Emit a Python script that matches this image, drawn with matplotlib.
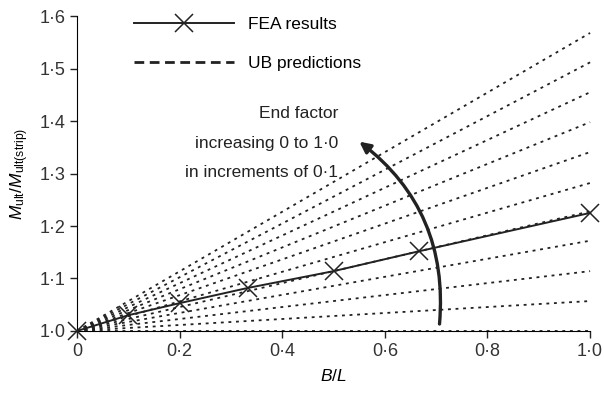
import matplotlib
matplotlib.use("Agg")
import matplotlib.pyplot as plt
from matplotlib.lines import Line2D
from matplotlib.patches import FancyArrowPatch

plt.rcParams['font.family'] = ['Liberation Sans', 'DejaVu Sans']
plt.rcParams['mathtext.fontset'] = 'custom'
plt.rcParams['mathtext.rm'] = 'Liberation Sans'
plt.rcParams['mathtext.it'] = 'Liberation Sans:italic'
plt.rcParams['font.size'] = 12.5

# FEA results
fea_x = [0, 0.1, 0.2, 0.333, 0.5, 0.667, 1.0]
fea_y = [1.0, 1.030, 1.053, 1.082, 1.114, 1.152, 1.225]

# UB predictions: straight lines from (0, 1) to value at B/L = 1.0, end factor 0..1.0
ub_x = [0, 1.0]
ub_end = [1.0, 1.057, 1.114, 1.172, 1.228, 1.282, 1.341, 1.398, 1.455, 1.512, 1.568]

x_ticks = [0, 0.2, 0.4, 0.6, 0.8, 1.0]
x_labels = ['0', '0·2', '0·4', '0·6', '0·8', '1·0']
y_ticks = [1.0, 1.1, 1.2, 1.3, 1.4, 1.5, 1.6]
y_labels = ['1·0', '1·1', '1·2', '1·3', '1·4', '1·5', '1·6']

fig = plt.figure(figsize=(6.04, 3.94), dpi=100)
ax = fig.add_axes([0.1275, 0.16, 0.8495, 0.799])

for v in ub_end:
    ax.plot(ub_x, [1.0, v], color='#222222', lw=1.3, dashes=(1.6, 2.6), clip_on=False)

ax.plot(fea_x, fea_y, color='#222222', lw=1.4, marker='x', markersize=13,
        markeredgewidth=1.1, clip_on=False, zorder=5)

# curved arrow for increasing end factor
arr = FancyArrowPatch((0.706, 1.008), (0.546, 1.364),
                      connectionstyle='arc3,rad=0.28', arrowstyle='-|>',
                      mutation_scale=16, lw=2.4, color='#222222', zorder=6)
ax.add_patch(arr)

ax.text(0.509, 1.358, 'End factor\nincreasing 0 to 1·0\nin increments of 0·1',
        ha='right', va='center', multialignment='right', linespacing=2.2,
        color='#222222')

ax.set_xlim(0, 1.0)
ax.set_ylim(1.0, 1.6)
ax.set_xticks(x_ticks)
ax.set_xticklabels(x_labels)
ax.set_yticks(y_ticks)
ax.set_yticklabels(y_labels)
ax.spines['top'].set_visible(False)
ax.spines['right'].set_visible(False)
ax.tick_params(length=5, width=1, colors='#222222', labelcolor='#333333',
               labelsize=13)

ax.set_xlabel('$B/L$', labelpad=6)
ax.set_ylabel(r'$M_{\mathrm{ult}}/M_{\mathrm{ult(strip)}}$', labelpad=6)

handles = [Line2D([], [], color='#222222', lw=1.4, marker='x', markersize=13,
                  markeredgewidth=1.1, markevery=[1]),
           Line2D([], [], color='#222222', lw=2, dashes=(3.5, 2))]
ax.legend(handles, ['FEA results', 'UB predictions'], loc='upper left',
          bbox_to_anchor=(0.08, 1.047), frameon=False, handlelength=5.75,
          labelspacing=1.35, handletextpad=0.85)

fig.savefig('out.png', dpi=100)
